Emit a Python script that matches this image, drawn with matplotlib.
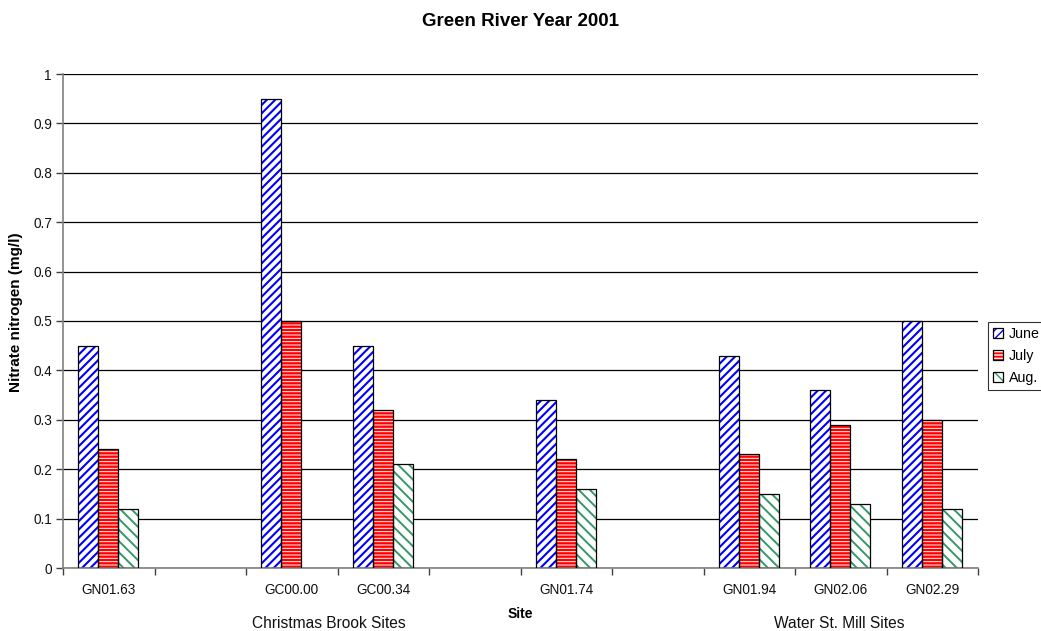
import matplotlib
matplotlib.use("Agg")
import matplotlib.pyplot as plt
from matplotlib.patches import Patch
from matplotlib.legend_handler import HandlerTuple
from matplotlib.ticker import FuncFormatter
import numpy as np

plt.rcParams["font.family"] = ["Liberation Sans", "DejaVu Sans"]

# Nitrate nitrogen (mg/l) by site and sampling month
sites = ["GN01.63", "", "GC00.00", "GC00.34", "", "GN01.74", "", "GN01.94", "GN02.06", "GN02.29"]
june = [0.45, np.nan, 0.95, 0.45, np.nan, 0.34, np.nan, 0.43, 0.36, 0.50]
july = [0.24, np.nan, 0.50, 0.32, np.nan, 0.22, np.nan, 0.23, 0.29, 0.30]
aug = [0.12, np.nan, np.nan, 0.21, np.nan, 0.16, np.nan, 0.15, 0.13, 0.12]
months = ["June", "July", "Aug."]
groups = [("Christmas Brook Sites", 2.41), ("Water St. Mill Sites", 7.98)]

# face colour, hatch colour, hatch pattern, hatch line width
styles = [
    ("white", "#0000FF", "////", 1.5),
    ("#FF0000", "white", "-----", 0.7),
    ("white", "#339966", "\\\\\\", 1.4),
]

fig = plt.figure(figsize=(10.41, 6.31), dpi=100)
ax = fig.add_axes([63 / 1041, 1 - 568 / 631, 915 / 1041, 494 / 631])

x = np.arange(len(sites))
w = 0.2186
series = [june, july, aug]
handles = []
for i, (vals, (face, hcol, hatch, hlw)) in enumerate(zip(series, styles)):
    pos = x + (i - 1) * w - 0.008
    with plt.rc_context({"hatch.linewidth": hlw}):
        ax.bar(pos, vals, w, color=face, edgecolor=hcol, linewidth=0, hatch=hatch, zorder=2)
        hp = Patch(facecolor=face, edgecolor=hcol, linewidth=0, hatch=hatch)
    ax.bar(pos, vals, w, fill=False, edgecolor="black", linewidth=0.9, zorder=3)
    bp = Patch(facecolor="none", edgecolor="black", linewidth=0.9)
    handles.append((hp, bp))

ax.set_xlim(-0.5, len(sites) - 0.5)
ax.set_ylim(0, 1)
ax.set_yticks(np.arange(0, 1.01, 0.1))
ax.yaxis.set_major_formatter(FuncFormatter(lambda v, p: f"{v:.1f}".rstrip("0").rstrip(".") if v else "0"))
ax.yaxis.grid(True, color="black", linewidth=0.9)
ax.set_axisbelow(True)

ax.set_xticks(np.arange(-0.5, len(sites), 1.0))
ax.set_xticklabels([])
ax.set_xticks(x, minor=True)
ax.set_xticklabels(sites, minor=True)
ax.tick_params(axis="x", which="major", length=5, width=1, color="#404040", direction="out")
ax.tick_params(axis="x", which="minor", length=0, pad=11, labelsize=9.8, labelcolor="#111111")
ax.tick_params(axis="y", length=5, width=1, color="#404040", direction="out", pad=3,
               labelsize=9.8, labelcolor="#111111")

for s in ("top", "right"):
    ax.spines[s].set_visible(False)
for s in ("left", "bottom"):
    ax.spines[s].set_color("#808080")
    ax.spines[s].set_linewidth(1.2)

for name, gx in groups:
    ax.text(gx, -55 / 494, name, transform=ax.get_xaxis_transform(),
            ha="center", va="center", fontsize=11.2, color="#111111")

fig.text(520 / 1041, 1 - 614 / 631, "Site", ha="center", va="center", fontsize=10, fontweight="bold")
fig.text(16 / 1041, 1 - 312 / 631, "Nitrate nitrogen (mg/l)", ha="center", va="center",
         rotation=90, fontsize=11, fontweight="bold")
fig.text(521 / 1041, 1 - 21 / 631, "Green River Year 2001", ha="center", va="center",
         fontsize=13.5, fontweight="bold")

leg = fig.legend(handles, months, handler_map={tuple: HandlerTuple(ndivide=1)},
                 loc="upper left", bbox_to_anchor=(988 / 1041, 1 - 322 / 631),
                 borderaxespad=0, fancybox=False, frameon=True, fontsize=10.3,
                 handlelength=0.72, handleheight=0.72, handletextpad=0.4,
                 labelspacing=0.55, borderpad=0.35)
leg.get_frame().set_edgecolor("black")
leg.get_frame().set_linewidth(0.8)

fig.savefig("out.png", dpi=100)
